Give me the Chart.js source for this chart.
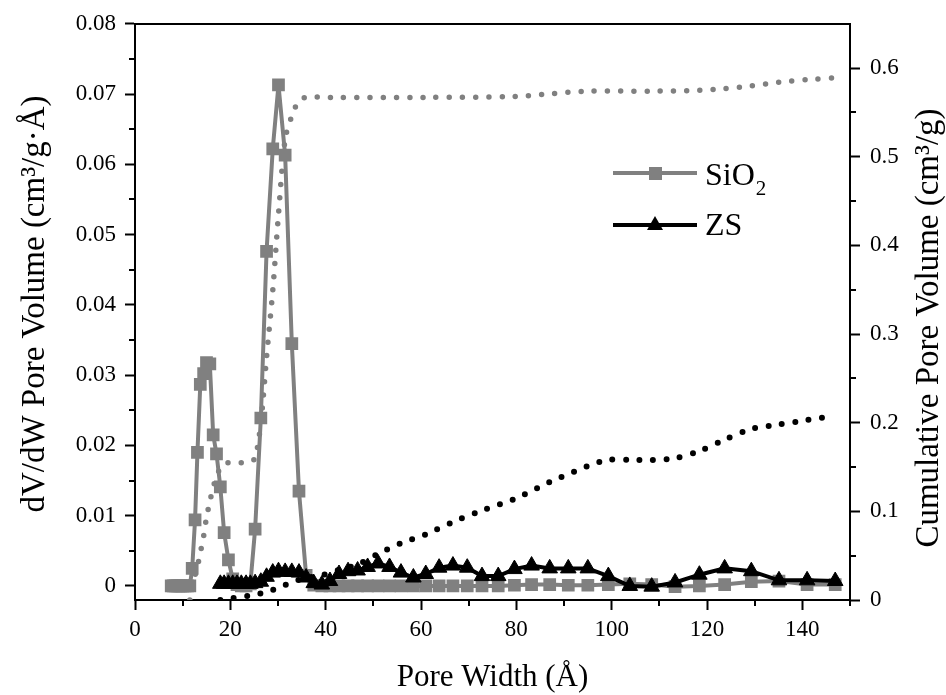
<!DOCTYPE html>
<html>
<head>
<meta charset="utf-8">
<title>Pore size distribution</title>
<script src="https://cdn.jsdelivr.net/npm/chart.js@4"></script>
<style>
  body { margin: 0; background: #fff; }
  canvas { display: block; }
</style>
</head>
<body>
<canvas id="poreChart" width="946" height="695"></canvas>
<script>
// pore width grid (Å), shared by both samples
const poreWidth = [7.6, 8.0, 8.4, 8.8, 9.2, 9.6, 10.0, 10.5, 11.0, 11.5,
  12.0, 12.6, 13.1, 13.7, 14.4, 15.0, 15.7, 16.4, 17.1, 17.9,
  18.7, 19.6, 20.5, 21.4, 22.3, 23.3, 24.2, 25.2, 26.4, 27.6,
  28.9, 30.1, 31.5, 32.9, 34.4, 35.9, 37.5, 39.2, 40.9, 42.8,
  44.7, 46.7, 48.8, 51.0, 53.4, 55.8, 58.4, 61.0, 63.8, 66.7,
  69.7, 72.8, 76.2, 79.6, 83.2, 87.0, 90.9, 95.0, 99.3, 103.8,
  108.4, 113.3, 118.4, 123.7, 129.3, 135.1, 141.0, 146.9];

// dV/dW (cm3/g·Å)
const sio2Dv = [0, 0, 0, 0, 0, 0, 0, 0, 0, 0,
  0.0025, 0.0094, 0.0190, 0.0287, 0.0302, 0.0318, 0.0316, 0.0215, 0.0188, 0.0141,
  0.0076, 0.0037, 0.0010, 0.0002, 0, 0, 0.0003, 0.0081, 0.0239, 0.0476,
  0.0622, 0.0713, 0.0613, 0.0345, 0.0135, 0.0015, 0.0001, 0, 0, 0,
  0, 0, 0, 0, 0, 0, 0, 0, 0, 0,
  0, 0, 0, 0.0001, 0.0002, 0.0002, 0.0001, 0.0001, 0.0002, 0.0003,
  0.0002, -0.0001, 0, 0.0002, 0.0006, 0.0007, 0.0002, 0.0002];

const zsDv = [null, null, null, null, null, null, null, null, null, null,
  null, null, null, null, null, null, null, null, null, 0.0003,
  0.0003, 0.0003, 0.0003, 0.0003, 0.0003, 0.0003, 0.0003, 0.0004, 0.0006, 0.0013,
  0.0019, 0.0021, 0.0020, 0.0020, 0.0019, 0.0012, 0.0004, 0.0002, 0.0007, 0.0017,
  0.0021, 0.0022, 0.0027, 0.0032, 0.0027, 0.0019, 0.0012, 0.0017, 0.0026, 0.0029,
  0.0026, 0.0014, 0.0014, 0.0024, 0.0029, 0.0025, 0.0025, 0.0025, 0.0014, 0.0000,
  -0.0001, 0.0005, 0.0016, 0.0025, 0.0021, 0.0008, 0.0008, 0.0007];

// cumulative pore volume (cm3/g)
const sio2CumX = [11.5, 12.0, 12.6, 13.1, 13.7, 14.4, 15.0, 15.7, 16.4, 17.1,
  17.9, 18.7, 19.6, 20.5, 23.3, 24.2, 25.2, 26.4, 27.6, 28.9,
  30.1, 31.5, 32.9, 34.4, 35.9, 40.9, 61.0, 79.6, 87.0, 95.0,
  108.4, 118.4, 123.7, 129.3, 135.1, 141.0, 146.9];
const sio2Cum = [0, 0.012, 0.028, 0.038, 0.053, 0.072, 0.093, 0.111, 0.127, 0.139,
  0.149, 0.153, 0.155, 0.155, 0.155, 0.156, 0.160, 0.200, 0.274, 0.349,
  0.435, 0.520, 0.546, 0.563, 0.567, 0.567, 0.567, 0.568, 0.571, 0.574,
  0.574, 0.575, 0.577, 0.580, 0.584, 0.587, 0.589];

const zsCumX = [17.9, 20.5, 24.2, 27.6, 30.1, 32.9, 35.9, 39.2, 42.8, 46.7,
  51.0, 55.8, 61.0, 66.7, 72.8, 79.6, 87.0, 95.0, 99.3, 103.8,
  108.4, 113.3, 118.4, 123.7, 129.3, 135.1, 141.0, 146.9];
const zsCum = [0.000, 0.002, 0.005, 0.009, 0.014, 0.020, 0.025, 0.028, 0.034, 0.040,
  0.052, 0.064, 0.074, 0.088, 0.101, 0.114, 0.133, 0.151, 0.158, 0.158,
  0.158, 0.160, 0.168, 0.181, 0.193, 0.198, 0.203, 0.208];

// minor tick positions
const xMinor = [10, 30, 50, 70, 90, 110, 130, 150];
const yMinor = [0.005, 0.015, 0.025, 0.035, 0.045, 0.055, 0.065, 0.075];
const y1Minor = [0.05, 0.15, 0.25, 0.35, 0.45, 0.55];

const GRAY = "#808080";
const FONT = "'Liberation Serif', 'Times New Roman', serif";
Chart.defaults.font.family = FONT;
Chart.defaults.color = "#000";

function pairs(xs, ys) {
  return xs.map((x, i) => ({ x: x, y: ys[i] })).filter(p => p.y !== null);
}

function verticalTitle(ctx, text, x, y) {
  ctx.save();
  ctx.translate(x, y);
  ctx.rotate(-Math.PI / 2);
  ctx.fillStyle = "#000";
  ctx.font = "33px " + FONT;
  ctx.textAlign = "center";
  ctx.textBaseline = "middle";
  ctx.fillText(text, 0, 0);
  ctx.restore();
}

const minorTicks = {
  id: "minorTicks",
  afterDraw(chart) {
    const ctx = chart.ctx;
    const { x, y, y1 } = chart.scales;
    ctx.save();
    ctx.strokeStyle = "#000";
    ctx.lineWidth = 2;
    ctx.beginPath();
    xMinor.forEach(v => {
      const px = Math.round(x.getPixelForValue(v));
      ctx.moveTo(px, x.top);
      ctx.lineTo(px, x.top + 6);
    });
    yMinor.forEach(v => {
      const py = Math.round(y.getPixelForValue(v));
      ctx.moveTo(y.right, py);
      ctx.lineTo(y.right - 6, py);
    });
    y1Minor.forEach(v => {
      const py = Math.round(y1.getPixelForValue(v));
      ctx.moveTo(y1.left, py);
      ctx.lineTo(y1.left + 6, py);
    });
    ctx.stroke();
    ctx.restore();

    // both axis titles read bottom to top
    verticalTitle(ctx, "dV/dW Pore Volume (cm³/g·Å)", 35, 304);
    verticalTitle(ctx, "Cumulative Pore Volume (cm³/g)", 929, 328);
  }
};

// legend with line + marker sample and subscript text
const sampleLegend = {
  id: "sampleLegend",
  afterDraw(chart) {
    const ctx = chart.ctx;
    ctx.save();
    ctx.lineWidth = 4;
    // SiO2
    ctx.strokeStyle = GRAY;
    ctx.beginPath();
    ctx.moveTo(613, 173);
    ctx.lineTo(697, 173);
    ctx.stroke();
    ctx.fillStyle = GRAY;
    ctx.fillRect(649, 167, 13, 13);
    // ZS
    ctx.strokeStyle = "#000";
    ctx.beginPath();
    ctx.moveTo(613, 225);
    ctx.lineTo(697, 225);
    ctx.stroke();
    ctx.fillStyle = "#000";
    ctx.beginPath();
    ctx.moveTo(655, 216);
    ctx.lineTo(663, 230);
    ctx.lineTo(647, 230);
    ctx.closePath();
    ctx.fill();

    ctx.fillStyle = "#000";
    ctx.textBaseline = "alphabetic";
    ctx.font = "32px " + FONT;
    ctx.fillText("SiO", 705, 185);
    const w = ctx.measureText("SiO").width;
    ctx.font = "21px " + FONT;
    ctx.fillText("2", 705 + w + 1, 195);
    ctx.font = "32px " + FONT;
    ctx.fillText("ZS", 705, 235);
    ctx.restore();
  }
};

const tickFont = { size: 23 };
const titleFont = { size: 31, lineHeight: 1 };

new Chart(document.getElementById("poreChart"), {
  type: "line",
  data: {
    datasets: [
      {
        label: "ZS cumulative",
        data: pairs(zsCumX, zsCum),
        yAxisID: "y1",
        order: 0,
        borderColor: "#000",
        borderWidth: 6,
        borderDash: [0, 13.5],
        borderCapStyle: "round",
        pointRadius: 0,
        tension: 0.3,
        fill: false
      },
      {
        label: "SiO2 cumulative",
        data: pairs(sio2CumX, sio2Cum),
        yAxisID: "y1",
        order: 1,
        borderColor: GRAY,
        borderWidth: 5.5,
        borderDash: [0, 13.2],
        borderCapStyle: "round",
        pointRadius: 0,
        tension: 0.3,
        fill: false
      },
      {
        label: "ZS",
        data: pairs(poreWidth, zsDv),
        yAxisID: "y",
        order: 2,
        borderColor: "#000",
        backgroundColor: "#000",
        borderWidth: 4,
        pointStyle: "triangle",
        pointRadius: 9,
        pointBorderWidth: 1,
        pointBackgroundColor: "#000",
        pointBorderColor: "#000",
        tension: 0,
        fill: false
      },
      {
        label: "SiO2",
        data: pairs(poreWidth, sio2Dv),
        yAxisID: "y",
        order: 3,
        borderColor: GRAY,
        backgroundColor: GRAY,
        borderWidth: 4,
        pointStyle: "rect",
        pointRadius: 9,
        pointBorderWidth: 0,
        pointBackgroundColor: GRAY,
        tension: 0,
        fill: false
      }
    ]
  },
  options: {
    responsive: false,
    animation: false,
    layout: { padding: 0 },
    plugins: {
      legend: { display: false },
      tooltip: { enabled: false }
    },
    scales: {
      x: {
        type: "linear",
        position: "bottom",
        min: 0,
        max: 150,
        ticks: { stepSize: 20, includeBounds: false, padding: 6, font: tickFont, maxRotation: 0 },
        grid: { drawOnChartArea: false, tickLength: 10, tickWidth: 2, tickColor: "#000" },
        border: { color: "#000", width: 2 },
        title: { display: true, text: "Pore Width (Å)", font: titleFont, padding: { top: 0, bottom: 1.5 } },
        afterFit: s => { s.height = 95; }
      },
      xTop: {
        type: "linear",
        position: "top",
        min: 0,
        max: 150,
        ticks: { display: false },
        grid: { drawOnChartArea: false, drawTicks: false },
        border: { color: "#000", width: 2 },
        afterFit: s => { s.height = 21; }
      },
      y: {
        type: "linear",
        position: "left",
        min: -0.002,
        max: 0.08,
        ticks: {
          stepSize: 0.01,
          includeBounds: false,
          padding: 9,
          font: tickFont,
          callback: v => String(Number(v.toFixed(2)))
        },
        grid: { drawOnChartArea: false, tickLength: 10, tickWidth: 2, tickColor: "#000" },
        border: { color: "#000", width: 2 },
        afterFit: s => { s.width = 135; }
      },
      y1: {
        type: "linear",
        position: "right",
        min: 0,
        max: 0.65,
        ticks: {
          stepSize: 0.1,
          includeBounds: false,
          padding: 10,
          font: tickFont,
          callback: v => String(Number(v.toFixed(1)))
        },
        grid: { drawOnChartArea: false, tickLength: 10, tickWidth: 2, tickColor: "#000" },
        border: { color: "#000", width: 2 },
        afterFit: s => { s.width = 96; }
      }
    }
  },
  plugins: [minorTicks, sampleLegend]
});
</script>
</body>
</html>
